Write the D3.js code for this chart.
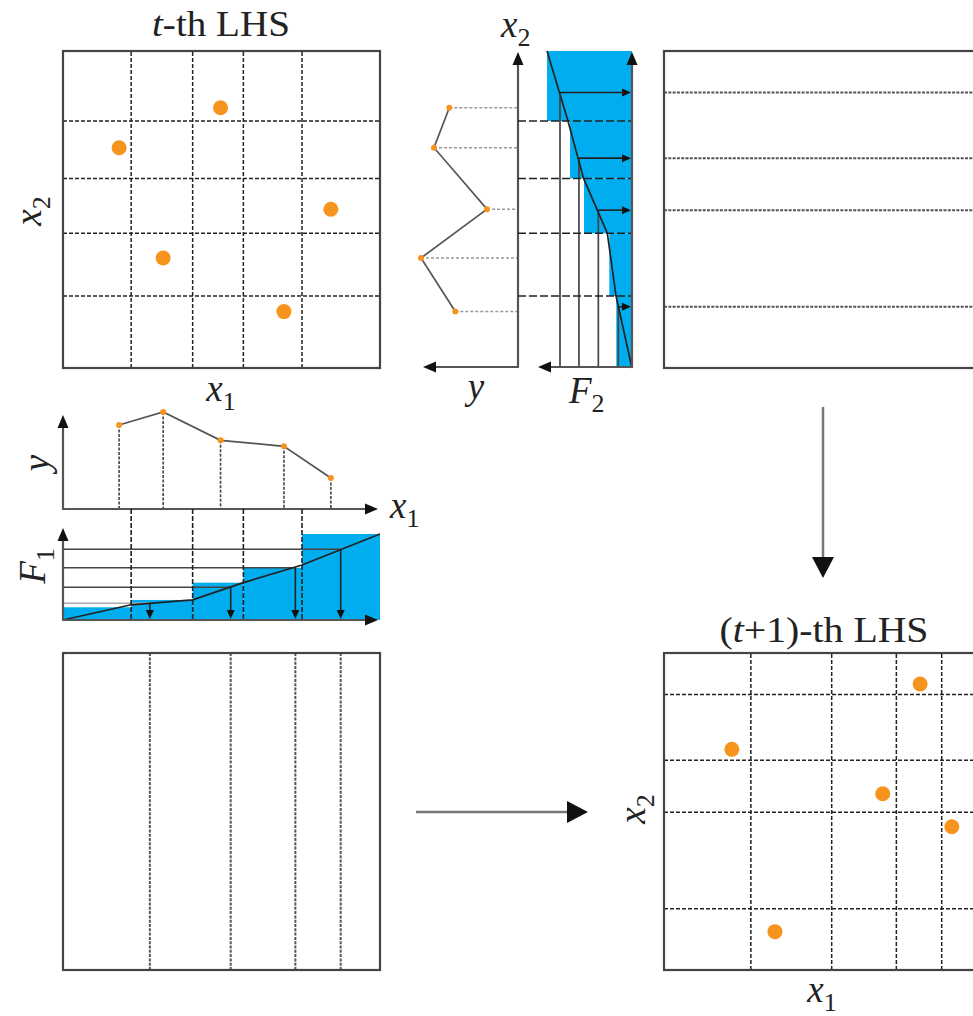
<!DOCTYPE html>
<html><head><meta charset="utf-8">
<script src="https://cdn.jsdelivr.net/npm/d3@7"></script>
<style>
html,body{margin:0;padding:0;background:#fff;}
svg{display:block;font-family:"Liberation Serif","Times New Roman",serif;}
</style></head>
<body><svg id="fig" width="973" height="1016"></svg>
<script>
// Design points of the t-th Latin hypercube sample (unit coordinates)
const ptsX1 = [0.497, 0.177, 0.845, 0.316, 0.697];
const ptsX2 = [0.821, 0.695, 0.501, 0.347, 0.178];
// Response y observed at each design point
const ptsY = [0.687, 0.840, 0.310, 0.970, 0.627];
// Stratum boundaries of the t-th design
const edgesX1 = [0.215, 0.409, 0.569, 0.754];
const edgesX2 = [0.227, 0.425, 0.598, 0.779];
// Cumulative distributions F1(x1), F2(x2) at 0, the boundaries and 1
const cdfF1 = [0, 0.177, 0.235, 0.434, 0.640, 1];
const cdfF2 = [0, 0.188, 0.290, 0.570, 0.753, 1];
// Per-stratum step levels (shaded)
const stepF1 = [0.148, 0.233, 0.434, 0.608, 1];
const stepF2 = [0.185, 0.267, 0.565, 0.729, 1];
// Probability levels mapped back through the inverse distribution
const levelsF1 = [0.194, 0.380, 0.608, 0.822];
const levelsF2 = [0.161, 0.396, 0.624, 0.847];
// Stratum boundaries of the (t+1)-th design
const newEdgesX1 = [0.274, 0.529, 0.733, 0.876];
const newEdgesX2 = [0.193, 0.498, 0.662, 0.869];
// Design points of the (t+1)-th sample
const newX1 = [0.808, 0.214, 0.690, 0.908, 0.350];
const newX2 = [0.902, 0.696, 0.556, 0.452, 0.121];

const ORANGE = "#F7941D", BLUE = "#00AEEF", INK = "#222", AX = "#555";
const svg = d3.select("#fig");

// Scales
const x1L = d3.scaleLinear([0, 1], [63, 380]);   // left column, x1
const x1R = d3.scaleLinear([0, 1], [664, 981]);  // right column, x1
const x2T = d3.scaleLinear([0, 1], [368, 51]);   // top row, x2
const x2B = d3.scaleLinear([0, 1], [970, 653]);  // bottom row, x2
const yH = d3.scaleLinear([0, 1], [518, 418]);   // response, drawn leftwards from the x2 axis
const yV = d3.scaleLinear([0, 1], [509, 409]);   // response, drawn upwards from the x1 axis
const f2S = d3.scaleLinear([0, 1], [632, 547]);  // F2, drawn leftwards
const f1S = d3.scaleLinear([0, 1], [620, 534]);  // F1, drawn upwards

const knotsX1 = [0, ...edgesX1, 1];
const knotsX2 = [0, ...edgesX2, 1];

// helpers
function arrow(g, xa, ya, xb, yb, o) {
  const dx = xb - xa, dy = yb - ya, len = Math.hypot(dx, dy);
  const ux = dx / len, uy = dy / len;
  const bx = xb - ux * o.l, by = yb - uy * o.l;
  g.append("line").attr("x1", xa).attr("y1", ya)
    .attr("x2", bx + ux).attr("y2", by + uy)
    .attr("stroke", o.stroke || AX).attr("stroke-width", o.sw || 2);
  g.append("path")
    .attr("d", `M${xb},${yb}L${bx - uy * o.w / 2},${by + ux * o.w / 2}L${bx + uy * o.w / 2},${by - ux * o.w / 2}Z`)
    .attr("fill", "#111");
}
function label(x, y, main, sub, opt = {}) {
  const t = svg.append("text").attr("font-size", opt.size || 37).attr("fill", INK)
    .attr("text-anchor", opt.anchor || "middle");
  if (opt.rotate) t.attr("transform", `translate(${x},${y}) rotate(-90)`);
  else t.attr("x", x).attr("y", y);
  t.append("tspan").attr("font-style", "italic").text(main);
  if (sub) t.append("tspan").attr("font-size", 26).attr("dy", 9).text(sub);
  return t;
}
function box(g, x0, y0) {
  g.append("rect").attr("x", x0).attr("y", y0).attr("width", 317).attr("height", 317)
    .attr("fill", "none").attr("stroke", "#444").attr("stroke-width", 2.2);
}
const axisArrow = { l: 13, w: 11, sw: 2.2 };
const smallArrow = { l: 9, w: 8, sw: 1.6, stroke: "#222" };
const bigArrow = { l: 21, w: 22, sw: 2.5, stroke: "#777" };

// ---------- t-th LHS (top left) ----------
const gTL = svg.append("g");
gTL.selectAll("line.v").data(edgesX1).join("line")
  .attr("x1", d => x1L(d)).attr("x2", d => x1L(d)).attr("y1", x2T(0)).attr("y2", x2T(1))
  .attr("stroke", INK).attr("stroke-width", 1.5).attr("stroke-dasharray", "4,2");
gTL.selectAll("line.h").data(edgesX2).join("line")
  .attr("y1", d => x2T(d)).attr("y2", d => x2T(d)).attr("x1", x1L(0)).attr("x2", x1L(1))
  .attr("stroke", INK).attr("stroke-width", 1.5).attr("stroke-dasharray", "4,2");
box(gTL, 63, 51);
gTL.selectAll("circle").data(ptsX1).join("circle")
  .attr("cx", d => x1L(d)).attr("cy", (d, i) => x2T(ptsX2[i])).attr("r", 7.5).attr("fill", ORANGE);

const t1 = svg.append("text").attr("x", 221).attr("y", 36).attr("text-anchor", "middle")
  .attr("font-size", 35).attr("fill", INK)
  .attr("textLength", 138).attr("lengthAdjust", "spacingAndGlyphs");
t1.append("tspan").attr("font-style", "italic").text("t");
t1.append("tspan").text("-th LHS");
label(221, 401, "x", "1");
label(41, 211, "x", "2", { rotate: true });

// ---------- response profile along x2 (top middle) ----------
const gTM = svg.append("g");
const byX2 = d3.range(ptsX2.length).sort((a, b) => ptsX2[b] - ptsX2[a]);
gTM.selectAll("line.g").data(byX2).join("line")
  .attr("x1", i => yH(ptsY[i])).attr("x2", yH(0))
  .attr("y1", i => x2T(ptsX2[i])).attr("y2", i => x2T(ptsX2[i]))
  .attr("stroke", "#999").attr("stroke-width", 1.6).attr("stroke-dasharray", "3,2");
gTM.append("path").datum(byX2)
  .attr("d", d3.line().x(i => yH(ptsY[i])).y(i => x2T(ptsX2[i])))
  .attr("fill", "none").attr("stroke", "#555").attr("stroke-width", 1.7);
gTM.selectAll("circle").data(byX2).join("circle")
  .attr("cx", i => yH(ptsY[i])).attr("cy", i => x2T(ptsX2[i])).attr("r", 3).attr("fill", ORANGE);
arrow(gTM, yH(0), x2T(0) - 1, yH(0), 52, axisArrow);
arrow(gTM, yH(0) + 1, x2T(0) - 1, 423, x2T(0) - 1, axisArrow);
label(501, 37, "x", "2", { anchor: "start" });
label(476, 399, "y");

// ---------- F2 (top middle right) ----------
const gF2 = svg.append("g");
const ints2 = d3.range(5).map(i => [knotsX2[i], knotsX2[i + 1], stepF2[i]]);
gF2.selectAll("rect").data(ints2).join("rect")
  .attr("x", d => f2S(d[2])).attr("width", d => f2S(0) - f2S(d[2]))
  .attr("y", d => x2T(d[1])).attr("height", d => x2T(d[0]) - x2T(d[1]))
  .attr("fill", BLUE);
gF2.selectAll("line.s").data(levelsF2).join("line")
  .attr("x1", d => f2S(d)).attr("x2", d => f2S(d))
  .attr("y1", x2T(0) - 1).attr("y2", (d, i) => x2T(newEdgesX2[i]))
  .attr("stroke", "#444").attr("stroke-width", 1.7);
gF2.selectAll("line.e").data(edgesX2).join("line")
  .attr("x1", yH(0)).attr("x2", f2S(0))
  .attr("y1", d => x2T(d)).attr("y2", d => x2T(d))
  .attr("stroke", INK).attr("stroke-width", 1.6).attr("stroke-dasharray", "8,3");
gF2.append("path").datum(d3.range(6))
  .attr("d", d3.line().x(i => f2S(cdfF2[i])).y(i => x2T(knotsX2[i])))
  .attr("fill", "none").attr("stroke", INK).attr("stroke-width", 1.7);
levelsF2.forEach((lv, i) => arrow(gF2, f2S(lv), x2T(newEdgesX2[i]), f2S(0) - 1, x2T(newEdgesX2[i]), smallArrow));
arrow(gF2, f2S(0), x2T(0) - 1, f2S(0), 52, axisArrow);
arrow(gF2, f2S(0) + 1, x2T(0) - 1, 538, x2T(0) - 1, axisArrow);
label(569, 403, "F", "2", { anchor: "start" });

// ---------- (t+1) x2 strata (top right) ----------
const gTR = svg.append("g");
gTR.selectAll("line").data(newEdgesX2).join("line")
  .attr("x1", x1R(0)).attr("x2", x1R(1)).attr("y1", d => x2T(d)).attr("y2", d => x2T(d))
  .attr("stroke", "#555").attr("stroke-width", 2).attr("stroke-dasharray", "3,1.3");
box(gTR, 664, 51);

// ---------- response profile along x1 (middle left) ----------
const gML = svg.append("g");
const byX1 = d3.range(ptsX1.length).sort((a, b) => ptsX1[a] - ptsX1[b]);
gML.selectAll("line").data(byX1).join("line")
  .attr("x1", i => x1L(ptsX1[i])).attr("x2", i => x1L(ptsX1[i]))
  .attr("y1", i => yV(ptsY[i])).attr("y2", yV(0))
  .attr("stroke", "#444").attr("stroke-width", 1.6).attr("stroke-dasharray", "3,1.5");
gML.append("path").datum(byX1)
  .attr("d", d3.line().x(i => x1L(ptsX1[i])).y(i => yV(ptsY[i])))
  .attr("fill", "none").attr("stroke", "#555").attr("stroke-width", 1.7);
gML.selectAll("circle").data(byX1).join("circle")
  .attr("cx", i => x1L(ptsX1[i])).attr("cy", i => yV(ptsY[i])).attr("r", 3).attr("fill", ORANGE);
arrow(gML, x1L(0), yV(0), x1L(0), 415, axisArrow);
arrow(gML, x1L(0) - 1, yV(0), 378, yV(0), axisArrow);
label(49, 463, "y", null, { rotate: true });
label(390, 518, "x", "1", { anchor: "start" });

// ---------- F1 (middle left, lower) ----------
const gF1 = svg.append("g");
const ints1 = d3.range(5).map(i => [knotsX1[i], knotsX1[i + 1], stepF1[i]]);
gF1.selectAll("rect").data(ints1).join("rect")
  .attr("x", d => x1L(d[0])).attr("width", d => x1L(d[1]) - x1L(d[0]))
  .attr("y", d => f1S(d[2])).attr("height", d => f1S(0) - f1S(d[2]))
  .attr("fill", BLUE);
gF1.selectAll("line.s").data(levelsF1).join("line")
  .attr("x1", x1L(0)).attr("x2", (d, i) => x1L(newEdgesX1[i]))
  .attr("y1", d => f1S(d)).attr("y2", d => f1S(d))
  .attr("stroke", (d, i) => i === 0 ? "#aaa" : "#444").attr("stroke-width", 1.6);
gF1.selectAll("line.e").data(edgesX1).join("line")
  .attr("x1", d => x1L(d)).attr("x2", d => x1L(d)).attr("y1", yV(0)).attr("y2", f1S(0))
  .attr("stroke", INK).attr("stroke-width", 1.6).attr("stroke-dasharray", "5,2");
gF1.append("path").datum(d3.range(6))
  .attr("d", d3.line().x(i => x1L(knotsX1[i])).y(i => f1S(cdfF1[i])))
  .attr("fill", "none").attr("stroke", INK).attr("stroke-width", 1.7);
levelsF1.forEach((lv, i) => arrow(gF1, x1L(newEdgesX1[i]), f1S(lv), x1L(newEdgesX1[i]), f1S(0) - 1, smallArrow));
arrow(gF1, x1L(0), f1S(0), x1L(0), 528, axisArrow);
arrow(gF1, x1L(0) - 1, f1S(0), 378, f1S(0), axisArrow);
label(45, 566, "F", "1", { rotate: true });

// ---------- (t+1) x1 strata (bottom left) ----------
const gBL = svg.append("g");
gBL.selectAll("line").data(newEdgesX1).join("line")
  .attr("x1", d => x1L(d)).attr("x2", d => x1L(d)).attr("y1", x2B(0)).attr("y2", x2B(1))
  .attr("stroke", "#555").attr("stroke-width", 2).attr("stroke-dasharray", "3,1.3");
box(gBL, 63, 653);

// ---------- (t+1)-th LHS (bottom right) ----------
const gBR = svg.append("g");
gBR.selectAll("line.v").data(newEdgesX1).join("line")
  .attr("x1", d => x1R(d)).attr("x2", d => x1R(d)).attr("y1", x2B(0)).attr("y2", x2B(1))
  .attr("stroke", INK).attr("stroke-width", 1.5).attr("stroke-dasharray", "4,2");
gBR.selectAll("line.h").data(newEdgesX2).join("line")
  .attr("y1", d => x2B(d)).attr("y2", d => x2B(d)).attr("x1", x1R(0)).attr("x2", x1R(1))
  .attr("stroke", INK).attr("stroke-width", 1.5).attr("stroke-dasharray", "4,2");
box(gBR, 664, 653);
gBR.selectAll("circle").data(newX1).join("circle")
  .attr("cx", d => x1R(d)).attr("cy", (d, i) => x2B(newX2[i])).attr("r", 7.5).attr("fill", ORANGE);

const t2 = svg.append("text").attr("x", 824).attr("y", 642).attr("text-anchor", "middle")
  .attr("font-size", 35).attr("fill", INK)
  .attr("textLength", 209).attr("lengthAdjust", "spacingAndGlyphs");
t2.append("tspan").text("(");
t2.append("tspan").attr("font-style", "italic").text("t");
t2.append("tspan").text("+1)-th LHS");
label(822, 1002, "x", "1");
label(645, 809, "x", "2", { rotate: true });

// ---------- flow arrows ----------
const gA = svg.append("g");
arrow(gA, 823, 407, 823, 578, bigArrow);
arrow(gA, 416, 812, 588, 812, bigArrow);
</script>
</body></html>
